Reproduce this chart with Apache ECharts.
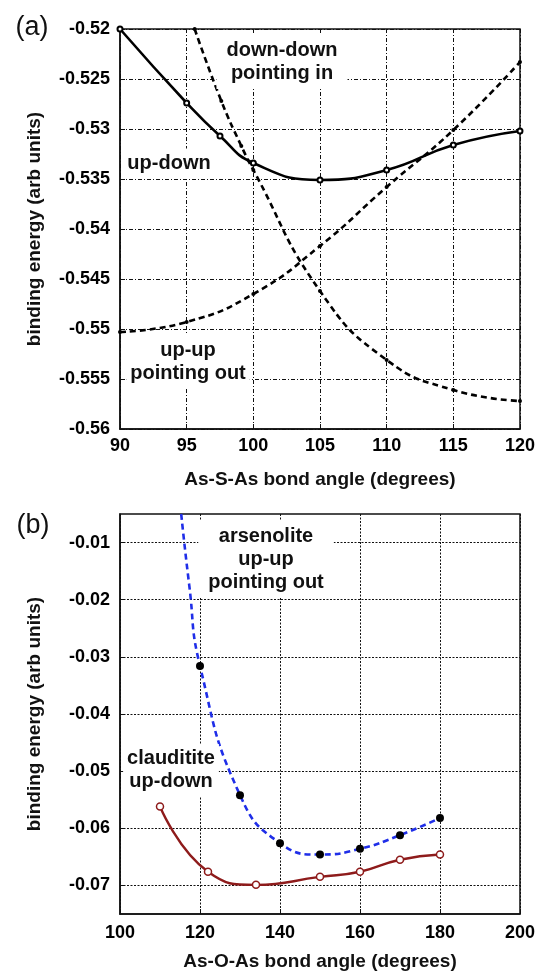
<!DOCTYPE html>
<html>
<head>
<meta charset="utf-8">
<script src="https://cdn.jsdelivr.net/npm/echarts@6/dist/echarts.min.js"></script>
<style>
  html, body { margin: 0; padding: 0; background: #fff; }
  #chart { width: 538px; height: 972px; }
</style>
</head>
<body>
<div id="chart"></div>
<script>
// (a) As-S-As bond angle
const anglesUpDown = [90, 95, 97.5, 100, 105, 110, 115, 120];
const energyUpDown = [-0.52, -0.5274, -0.5307, -0.5334, -0.5351, -0.5341, -0.5316, -0.5302];
const anglesDownDown = [95.6, 97.6, 99.1, 100, 105, 110, 115, 120];
const energyDownDown = [-0.52, -0.5272, -0.5317, -0.5341, -0.5462, -0.5531, -0.5561, -0.5572];
const anglesUpUp = [90, 95, 100, 105, 110, 115, 120];
const energyUpUp = [-0.5503, -0.5493, -0.5465, -0.5417, -0.5358, -0.5301, -0.5233];

// (b) As-O-As bond angle
const anglesArsenolite = [115.3, 117.3, 120, 130, 140, 150, 160, 170, 180];
const energyArsenolite = [-0.005, -0.0174, -0.0316, -0.0542, -0.0626, -0.0646, -0.0636, -0.0612, -0.0582];
const markedArsenolite = [false, false, true, true, true, true, true, true, true];
const anglesClauditite = [110, 122, 134, 150, 160, 170, 180];
const energyClauditite = [-0.0562, -0.0676, -0.0699, -0.0685, -0.0676, -0.0655, -0.0646];

const yTicksB = [-0.07, -0.06, -0.05, -0.04, -0.03, -0.02, -0.01];

const FONT = '"Liberation Sans", Arial, sans-serif';
const pairs = (xs, ys) => xs.map((x, i) => [x, ys[i]]);

const tickLabel = { color: '#000', fontSize: 18, fontWeight: 'bold', fontFamily: FONT };
const nameStyle = { color: '#111', fontSize: 19, fontWeight: 'bold', fontFamily: FONT };
// text boxes with a white background that hides the grid behind them
const annot = (x, y, text, pad) => ({
  type: 'text', x: x, y: y, z: 50,
  style: {
    text: text, fill: '#111', font: 'bold 20px ' + FONT,
    align: 'center', verticalAlign: 'middle', lineHeight: 23,
    backgroundColor: '#fff', padding: pad
  }
});

const chart = echarts.init(document.getElementById('chart'));
chart.setOption({
  backgroundColor: '#fff',
  animation: false,
  grid: [
    { left: 120, right: 17, top: 29, height: 400, show: true, borderColor: '#111', borderWidth: 1.5 },
    { left: 120, right: 17, top: 514, height: 400, show: true, borderColor: '#111', borderWidth: 1.5 }
  ],
  xAxis: [
    {
      gridIndex: 0, type: 'value', min: 90, max: 120, interval: 5,
      name: 'As-S-As bond angle (degrees)', nameLocation: 'middle', nameGap: 41, nameTextStyle: nameStyle,
      axisLine: { lineStyle: { color: '#111', width: 1.5 } },
      axisTick: { inside: true, length: 5, lineStyle: { color: '#111' } },
      axisLabel: Object.assign({ margin: 8 }, tickLabel),
      splitLine: { show: true, lineStyle: { color: '#111', width: 1, type: [4, 2, 1, 2] } }
    },
    {
      gridIndex: 1, type: 'value', min: 100, max: 200, interval: 20,
      name: 'As-O-As bond angle (degrees)', nameLocation: 'middle', nameGap: 38, nameTextStyle: nameStyle,
      axisLine: { lineStyle: { color: '#111', width: 1.5 } },
      axisTick: { inside: true, length: 5, lineStyle: { color: '#111' } },
      axisLabel: Object.assign({ margin: 10 }, tickLabel),
      splitLine: { show: true, lineStyle: { color: '#111', width: 1, type: [2, 1.5] } }
    }
  ],
  yAxis: [
    {
      gridIndex: 0, type: 'value', min: -0.56, max: -0.52, interval: 0.005,
      name: 'binding energy (arb units)', nameLocation: 'middle', nameGap: 76, nameTextStyle: nameStyle,
      axisLine: { lineStyle: { color: '#111', width: 1.5 } },
      axisTick: { inside: true, length: 5, lineStyle: { color: '#111' } },
      axisLabel: Object.assign({ margin: 10 }, tickLabel),
      splitLine: { show: true, lineStyle: { color: '#111', width: 1, type: [4, 2, 1, 2] } }
    },
    {
      gridIndex: 1, type: 'value', min: -0.075, max: -0.005,
      name: 'binding energy (arb units)', nameLocation: 'middle', nameGap: 76, nameTextStyle: nameStyle,
      axisLine: { lineStyle: { color: '#111', width: 1.5 } },
      axisTick: { inside: true, length: 5, customValues: yTicksB, lineStyle: { color: '#111' } },
      axisLabel: Object.assign({ margin: 10, customValues: yTicksB }, tickLabel),
      splitLine: { show: true, lineStyle: { color: '#111', width: 1, type: [2, 1.5] } }
    }
  ],
  graphic: [
    { type: 'text', x: 32, y: 28, style: { text: '(a)', fill: '#111', font: '27px ' + FONT, align: 'center', verticalAlign: 'middle' } },
    { type: 'text', x: 33, y: 526, style: { text: '(b)', fill: '#111', font: '27px ' + FONT, align: 'center', verticalAlign: 'middle' } },
    annot(282, 62, 'down-down\npointing in', [4, 10]),
    annot(169, 163, 'up-down', [3, 4]),
    annot(188, 362, 'up-up\npointing out', [4, 4]),
    annot(266, 559, 'arsenolite\nup-up\npointing out', [4, 10]),
    annot(171, 770, 'clauditite\nup-down', [3, 4])
  ],
  series: [
    {
      name: 'up-down', type: 'line', xAxisIndex: 0, yAxisIndex: 0,
      data: pairs(anglesUpDown, energyUpDown), smooth: 0.5,
      symbol: 'emptyCircle', symbolSize: 5,
      lineStyle: { color: '#000', width: 2.6 },
      itemStyle: { color: '#000', borderColor: '#000', borderWidth: 1 }
    },
    {
      name: 'down-down', type: 'line', xAxisIndex: 0, yAxisIndex: 0,
      data: pairs(anglesDownDown, energyDownDown), smooth: 0.5,
      symbol: 'circle', symbolSize: 4,
      lineStyle: { color: '#000', width: 2.6, type: [6, 4] },
      itemStyle: { color: '#000' }
    },
    {
      name: 'up-up', type: 'line', xAxisIndex: 0, yAxisIndex: 0,
      data: pairs(anglesUpUp, energyUpUp), smooth: 0.5,
      symbol: 'circle', symbolSize: 4,
      lineStyle: { color: '#000', width: 2.6, type: [6, 4] },
      itemStyle: { color: '#000' }
    },
    {
      name: 'arsenolite', type: 'line', xAxisIndex: 1, yAxisIndex: 1,
      data: anglesArsenolite.map((x, i) => ({
        value: [x, energyArsenolite[i]],
        symbol: markedArsenolite[i] ? 'circle' : 'none'
      })),
      smooth: 0.5,
      symbolSize: 8,
      lineStyle: { color: '#1f2ee8', width: 2.6, type: [6, 4] },
      itemStyle: { color: '#000' }
    },
    {
      name: 'clauditite', type: 'line', xAxisIndex: 1, yAxisIndex: 1,
      data: pairs(anglesClauditite, energyClauditite), smooth: 0.5,
      symbol: 'circle', symbolSize: 7,
      lineStyle: { color: '#8e1b1b', width: 2.4 },
      itemStyle: { color: '#fff', borderColor: '#8e1b1b', borderWidth: 1.5 }
    }
  ]
});
</script>
</body>
</html>
